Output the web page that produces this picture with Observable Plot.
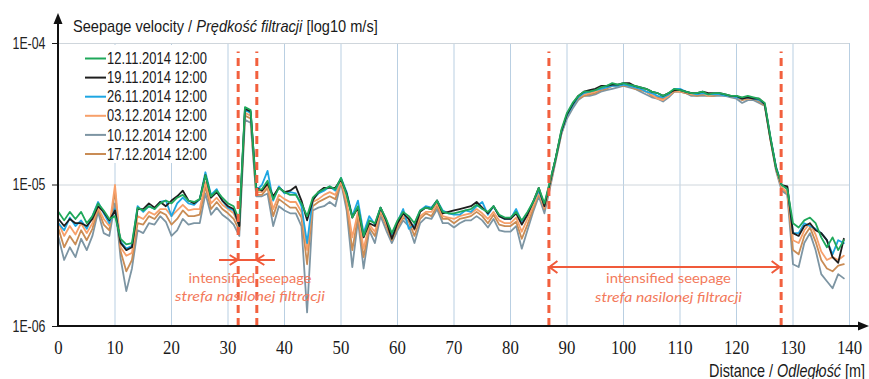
<!DOCTYPE html>
<html><head><meta charset="utf-8">
<script src="https://cdn.jsdelivr.net/npm/d3@7"></script>
<script src="https://cdn.jsdelivr.net/npm/@observablehq/plot@0.6"></script>
<style>
html,body{margin:0;padding:0;background:#fff;}
#chart{width:869px;height:379px;}
svg{overflow:visible;}
</style></head><body><div id="chart"></div>
<script>
// Series names and colours (legend order)
const seriesNames = ["12.11.2014 12:00","19.11.2014 12:00","26.11.2014 12:00","03.12.2014 12:00","10.12.2014 12:00","17.12.2014 12:00"];
const seriesColors = ["#1fa85a","#1e1e1e","#1ea6e2","#f7a06a","#7d95a3","#c98c55"];

// Distance along profile [m], one reading per metre
const distance = Array.from({length: 140}, (_, i) => i);

// log10 of seepage velocity [m/s]
const v1211 = [-5.19,-5.25,-5.19,-5.24,-5.19,-5.27,-5.22,-5.13,-5.18,-5.24,-5.22,-5.38,-5.42,-5.41,-5.16,-5.18,-5.15,-5.17,-5.13,-5.11,-5.13,-5.09,-5.07,-5.11,-5.12,-5.10,-4.93,-5.08,-5.04,-5.09,-5.13,-5.15,-5.25,-4.45,-4.47,-5.04,-5.03,-4.97,-5.10,-5.02,-5.05,-5.07,-5.07,-5.13,-5.22,-5.09,-5.05,-5.03,-5.01,-5.03,-4.95,-5.07,-5.23,-5.15,-5.36,-5.25,-5.27,-5.16,-5.24,-5.34,-5.25,-5.19,-5.22,-5.27,-5.18,-5.16,-5.17,-5.11,-5.19,-5.20,-5.20,-5.19,-5.18,-5.17,-5.14,-5.17,-5.19,-5.15,-5.21,-5.23,-5.23,-5.19,-5.25,-5.19,-5.12,-5.02,-5.13,-4.97,-4.81,-4.61,-4.49,-4.42,-4.37,-4.34,-4.34,-4.33,-4.31,-4.30,-4.28,-4.29,-4.28,-4.29,-4.30,-4.31,-4.32,-4.34,-4.35,-4.37,-4.35,-4.32,-4.33,-4.34,-4.35,-4.35,-4.34,-4.36,-4.35,-4.35,-4.36,-4.37,-4.37,-4.38,-4.37,-4.38,-4.39,-4.42,-4.66,-4.88,-5.00,-5.03,-5.27,-5.30,-5.25,-5.23,-5.27,-5.37,-5.44,-5.37,-5.46,-5.39];
const v1911 = [-5.24,-5.29,-5.24,-5.27,-5.27,-5.29,-5.24,-5.15,-5.19,-5.25,-5.18,-5.41,-5.46,-5.44,-5.17,-5.17,-5.13,-5.16,-5.12,-5.15,-5.11,-5.08,-5.04,-5.11,-5.13,-5.10,-4.93,-5.09,-5.05,-5.11,-5.15,-5.17,-5.29,-4.46,-4.48,-5.02,-5.04,-4.99,-5.08,-5.02,-5.05,-5.04,-5.01,-5.11,-5.25,-5.11,-5.05,-5.02,-5.02,-5.02,-4.96,-5.06,-5.23,-5.16,-5.37,-5.27,-5.29,-5.16,-5.25,-5.38,-5.27,-5.20,-5.24,-5.31,-5.19,-5.16,-5.17,-5.11,-5.20,-5.19,-5.18,-5.17,-5.16,-5.15,-5.12,-5.16,-5.20,-5.15,-5.22,-5.24,-5.24,-5.20,-5.28,-5.21,-5.12,-5.02,-5.15,-4.98,-4.81,-4.62,-4.50,-4.43,-4.37,-4.34,-4.33,-4.32,-4.30,-4.30,-4.29,-4.29,-4.28,-4.28,-4.30,-4.31,-4.32,-4.34,-4.35,-4.37,-4.35,-4.33,-4.33,-4.34,-4.35,-4.35,-4.34,-4.35,-4.35,-4.35,-4.36,-4.37,-4.37,-4.39,-4.38,-4.39,-4.39,-4.43,-4.67,-4.88,-5.00,-5.01,-5.34,-5.36,-5.29,-5.27,-5.32,-5.34,-5.39,-5.51,-5.55,-5.38];
const v2611 = [-5.27,-5.32,-5.23,-5.29,-5.25,-5.31,-5.22,-5.12,-5.20,-5.27,-5.17,-5.40,-5.45,-5.43,-5.15,-5.19,-5.15,-5.17,-5.12,-5.11,-5.22,-5.13,-5.09,-5.13,-5.14,-5.10,-4.91,-5.07,-5.03,-5.11,-5.16,-5.18,-5.29,-4.47,-4.49,-5.04,-5.00,-4.90,-5.11,-5.01,-5.06,-5.05,-5.06,-5.15,-5.41,-5.10,-5.06,-5.04,-5.01,-5.04,-4.95,-5.05,-5.22,-5.11,-5.34,-5.22,-5.28,-5.16,-5.25,-5.35,-5.26,-5.17,-5.31,-5.28,-5.18,-5.15,-5.16,-5.11,-5.18,-5.20,-5.21,-5.21,-5.18,-5.19,-5.15,-5.12,-5.21,-5.15,-5.22,-5.24,-5.24,-5.17,-5.26,-5.20,-5.12,-5.04,-5.14,-4.98,-4.81,-4.63,-4.51,-4.44,-4.38,-4.35,-4.34,-4.33,-4.32,-4.31,-4.30,-4.30,-4.29,-4.30,-4.31,-4.32,-4.34,-4.35,-4.37,-4.38,-4.36,-4.32,-4.32,-4.34,-4.35,-4.36,-4.35,-4.36,-4.36,-4.36,-4.37,-4.37,-4.38,-4.39,-4.38,-4.39,-4.40,-4.43,-4.66,-4.87,-5.00,-5.02,-5.34,-5.34,-5.27,-5.29,-5.31,-5.34,-5.39,-5.49,-5.39,-5.41];
const v0312 = [-5.27,-5.36,-5.29,-5.35,-5.27,-5.34,-5.27,-5.16,-5.24,-5.29,-5.00,-5.44,-5.50,-5.48,-5.22,-5.24,-5.19,-5.21,-5.17,-5.17,-5.22,-5.18,-5.14,-5.18,-5.17,-5.17,-4.98,-5.13,-5.09,-5.14,-5.17,-5.20,-5.29,-4.49,-4.51,-5.05,-5.05,-5.00,-5.17,-5.07,-5.10,-5.12,-5.12,-5.19,-5.46,-5.12,-5.10,-5.07,-5.05,-5.07,-4.97,-5.11,-5.37,-5.19,-5.45,-5.28,-5.33,-5.18,-5.27,-5.36,-5.28,-5.22,-5.24,-5.32,-5.22,-5.19,-5.19,-5.13,-5.22,-5.23,-5.24,-5.22,-5.21,-5.20,-5.17,-5.20,-5.24,-5.19,-5.25,-5.27,-5.27,-5.23,-5.33,-5.24,-5.15,-5.05,-5.16,-4.99,-4.81,-4.63,-4.51,-4.44,-4.38,-4.36,-4.35,-4.34,-4.32,-4.31,-4.30,-4.30,-4.29,-4.30,-4.31,-4.32,-4.34,-4.36,-4.39,-4.40,-4.37,-4.33,-4.34,-4.34,-4.36,-4.36,-4.35,-4.37,-4.36,-4.36,-4.37,-4.37,-4.38,-4.39,-4.39,-4.39,-4.40,-4.43,-4.67,-4.88,-5.02,-5.05,-5.39,-5.41,-5.32,-5.27,-5.35,-5.47,-5.53,-5.51,-5.53,-5.50];
const v1012 = [-5.37,-5.53,-5.44,-5.51,-5.38,-5.46,-5.36,-5.19,-5.34,-5.36,-5.13,-5.52,-5.75,-5.59,-5.32,-5.34,-5.27,-5.28,-5.22,-5.26,-5.36,-5.32,-5.24,-5.28,-5.27,-5.27,-5.06,-5.21,-5.16,-5.21,-5.24,-5.28,-5.36,-4.54,-4.56,-5.08,-5.08,-5.06,-5.29,-5.15,-5.18,-5.20,-5.20,-5.29,-5.90,-5.18,-5.16,-5.15,-5.12,-5.15,-4.98,-5.18,-5.58,-5.25,-5.59,-5.32,-5.41,-5.22,-5.32,-5.41,-5.32,-5.25,-5.29,-5.41,-5.27,-5.23,-5.24,-5.17,-5.27,-5.27,-5.30,-5.27,-5.25,-5.25,-5.22,-5.25,-5.30,-5.24,-5.32,-5.33,-5.33,-5.29,-5.45,-5.32,-5.19,-5.08,-5.20,-5.02,-4.83,-4.64,-4.53,-4.46,-4.40,-4.37,-4.37,-4.36,-4.34,-4.33,-4.32,-4.31,-4.30,-4.31,-4.32,-4.34,-4.36,-4.38,-4.39,-4.41,-4.38,-4.34,-4.34,-4.35,-4.37,-4.37,-4.37,-4.37,-4.37,-4.37,-4.37,-4.38,-4.39,-4.42,-4.40,-4.40,-4.42,-4.44,-4.68,-4.90,-5.04,-5.07,-5.56,-5.58,-5.41,-5.34,-5.46,-5.63,-5.68,-5.73,-5.63,-5.66];
const v1712 = [-5.31,-5.44,-5.36,-5.42,-5.32,-5.39,-5.31,-5.17,-5.28,-5.32,-5.04,-5.47,-5.61,-5.53,-5.27,-5.28,-5.22,-5.24,-5.19,-5.21,-5.28,-5.24,-5.18,-5.22,-5.22,-5.21,-5.01,-5.17,-5.12,-5.17,-5.20,-5.24,-5.32,-4.51,-4.53,-5.07,-5.07,-5.02,-5.22,-5.10,-5.13,-5.16,-5.16,-5.23,-5.56,-5.15,-5.12,-5.10,-5.08,-5.10,-4.98,-5.14,-5.46,-5.22,-5.51,-5.30,-5.36,-5.19,-5.29,-5.39,-5.30,-5.23,-5.26,-5.36,-5.24,-5.20,-5.22,-5.15,-5.24,-5.24,-5.27,-5.24,-5.23,-5.22,-5.19,-5.22,-5.27,-5.21,-5.28,-5.29,-5.29,-5.26,-5.38,-5.28,-5.17,-5.06,-5.17,-5.00,-4.82,-4.64,-4.51,-4.44,-4.39,-4.37,-4.36,-4.35,-4.33,-4.32,-4.30,-4.30,-4.30,-4.30,-4.32,-4.33,-4.34,-4.37,-4.38,-4.39,-4.37,-4.34,-4.34,-4.35,-4.36,-4.37,-4.36,-4.37,-4.37,-4.36,-4.37,-4.37,-4.38,-4.40,-4.39,-4.39,-4.41,-4.44,-4.68,-4.89,-5.02,-5.06,-5.46,-5.49,-5.36,-5.30,-5.40,-5.53,-5.59,-5.61,-5.57,-5.56];

// Axis ticks
const xTicks = [0,10,20,30,40,50,60,70,80,90,100,110,120,130,140];
const yTicks = [1e-4, 1e-5, 1e-6];
const yTickLabels = ["1E-04","1E-05","1E-06"];
// Boundaries of intensified-seepage zones [m]
const zoneBounds = [31.8, 35.1, 86.8, 127.9];
const zoneText = ["intensified seepage", "strefa nasilonej filtracji"];

const seriesValues = [v1211, v1911, v2611, v0312, v1012, v1712];
// draw order: lower series first so the upper group sits on top
const drawOrder = [4, 5, 3, 2, 1, 0];
const rows = [];
for (const i of drawOrder) {
  seriesValues[i].forEach((lv, j) => rows.push({d: distance[j], v: Math.pow(10, lv), s: seriesNames[i]}));
}

const chart = Plot.plot({
  width: 869, height: 379,
  marginLeft: 58, marginRight: 20, marginTop: 43, marginBottom: 53,
  style: {fontFamily: "'Liberation Sans', Arial, sans-serif", background: "white", color: "#1a1a1a"},
  x: {domain: [0, 140], axis: null},
  y: {type: "log", domain: [1e-6, 1e-4], axis: null},
  color: {domain: seriesNames, range: seriesColors},
  marks: [
    Plot.ruleX(xTicks.filter(t => t > 0), {stroke: "#b9cfe2", strokeWidth: 1}),
    Plot.ruleY([1e-4, 1e-5], {stroke: "#cfd6dc", strokeWidth: 1}),
    Plot.line(rows, {x: "d", y: "v", z: "s", stroke: "s", strokeWidth: 1.8, curve: "linear"}),
    Plot.ruleX(zoneBounds, {y1: 1e-6, y2: Math.pow(10, -4.06), stroke: "#f2603e", strokeWidth: 3, strokeDasharray: "8,5"}),
    Plot.axisX(xTicks, {tickSize: 0, tickPadding: 14, fontSize: 19, fontFamily: "'Liberation Serif', 'Times New Roman', serif", label: null, fill: "#1a1a1a"}),
    Plot.axisY(yTicks, {tickSize: 6, tickPadding: 7, fontSize: 16, label: null, tickFormat: (d) => yTickLabels[yTicks.indexOf(d)], fill: "#222"})
  ]
});
document.getElementById("chart").appendChild(chart);

const svg = d3.select(chart);
const X = v => chart.scale("x").apply(v);
const Y = v => chart.scale("y").apply(v);

// squeeze axis labels horizontally like the reference
svg.selectAll("g[aria-label='x-axis tick label'] text").each(function() {
  const t = this.textContent;
  d3.select(this).attr("textLength", t.length * 8.4).attr("lengthAdjust", "spacingAndGlyphs");
});
svg.selectAll("g[aria-label='y-axis tick label'] text")
  .attr("textLength", 33).attr("lengthAdjust", "spacingAndGlyphs");

// text helper: natural font, squeezed horizontally to a target width
function label(parent, x, y, width, anchor, attrs, parts) {
  const t = parent.append("text").attr("x", 0).attr("y", 0).attr("text-anchor", anchor);
  for (const k in attrs) t.attr(k, attrs[k]);
  for (const p of parts) {
    const s = t.append("tspan").text(p.text);
    if (p.italic) s.attr("font-style", "italic");
  }
  const w = t.node().getComputedTextLength();
  const sx = w > 0 ? width / w : 1;
  t.attr("transform", `translate(${x},${y}) scale(${sx},1)`);
  return t;
}

const x0 = X(0), yBot = Y(1e-6);

// axes with arrows
const ax = svg.append("g");
ax.append("line").attr("x1", x0).attr("x2", 860).attr("y1", yBot).attr("y2", yBot).attr("stroke", "#111").attr("stroke-width", 2);
ax.append("path").attr("d", `M869,${yBot} L858,${yBot-4.5} L858,${yBot+4.5} Z`).attr("fill", "#111");
ax.append("line").attr("x1", x0).attr("x2", x0).attr("y1", yBot).attr("y2", 22).attr("stroke", "#111").attr("stroke-width", 2);
ax.append("path").attr("d", `M${x0},13 L${x0-4.5},24 L${x0+4.5},24 Z`).attr("fill", "#111");

const base = {"font-family": "'Liberation Sans', Arial, sans-serif", fill: "#1a1a1a"};
// title
label(svg, 73, 31.5, 305, "start", {...base, "font-size": 17},
  [{text: "Seepage velocity / "}, {text: "Prędkość filtracji", italic: true}, {text: " [log10 m/s]"}]);
// x label
label(svg, 865, 376.5, 156, "end", {...base, "font-size": 17.5},
  [{text: "Distance / "}, {text: "Odległość", italic: true}, {text: " [m]"}]);

// legend
const lg = svg.append("g");
lg.append("rect").attr("x", 78).attr("y", 45).attr("width", 140).attr("height", 118).attr("fill", "white");
seriesNames.forEach((n, i) => {
  const cy = 58.5 + i * 19.1;
  lg.append("line").attr("x1", 85).attr("x2", 106).attr("y1", cy).attr("y2", cy)
    .attr("stroke", seriesColors[i]).attr("stroke-width", 2);
  label(lg, 107, cy + 5.6, 100, "start", {...base, "font-size": 15.8}, [{text: n}]);
});

// zone annotations
const red = "#f05a3a", txt = "#f37a5c";
const an = svg.append("g").attr("fill", "none").attr("stroke", red).attr("stroke-width", 2);
// small zone: arrows pointing inward
const sA = 260, a = X(zoneBounds[0]), b = X(zoneBounds[1]);
an.append("line").attr("x1", X(zoneBounds[0] - 3.3)).attr("x2", X(zoneBounds[1] + 3.3)).attr("y1", sA).attr("y2", sA);
an.append("path").attr("d", `M${a-8},${sA-5} L${a},${sA} L${a-8},${sA+5}`);
an.append("path").attr("d", `M${b+8},${sA-5} L${b},${sA} L${b+8},${sA+5}`);
// big zone: double arrow
const bA = 267, c = X(zoneBounds[2]), e = X(zoneBounds[3]);
an.append("line").attr("x1", c + 1).attr("x2", e - 1).attr("y1", bA).attr("y2", bA);
an.append("path").attr("d", `M${c+9},${bA-6} L${c+1},${bA} L${c+9},${bA+6}`);
an.append("path").attr("d", `M${e-9},${bA-6} L${e-1},${bA} L${e-9},${bA+6}`);

const zf = {"font-family": "Lato, 'Open Sans', sans-serif", "font-size": 14, fill: txt};
function zoneLabel(cx, y1, y2, w1, w2) {
  label(svg, cx, y1, w1, "middle", zf, [{text: zoneText[0]}]);
  label(svg, cx, y2, w2, "middle", zf, [{text: zoneText[1], italic: true}]);
}
zoneLabel((a + b) / 2 + 3, 283, 300.5, 123, 150);
zoneLabel((c + e) / 2 + 4, 282.5, 301.5, 125, 147);
</script></body></html>
